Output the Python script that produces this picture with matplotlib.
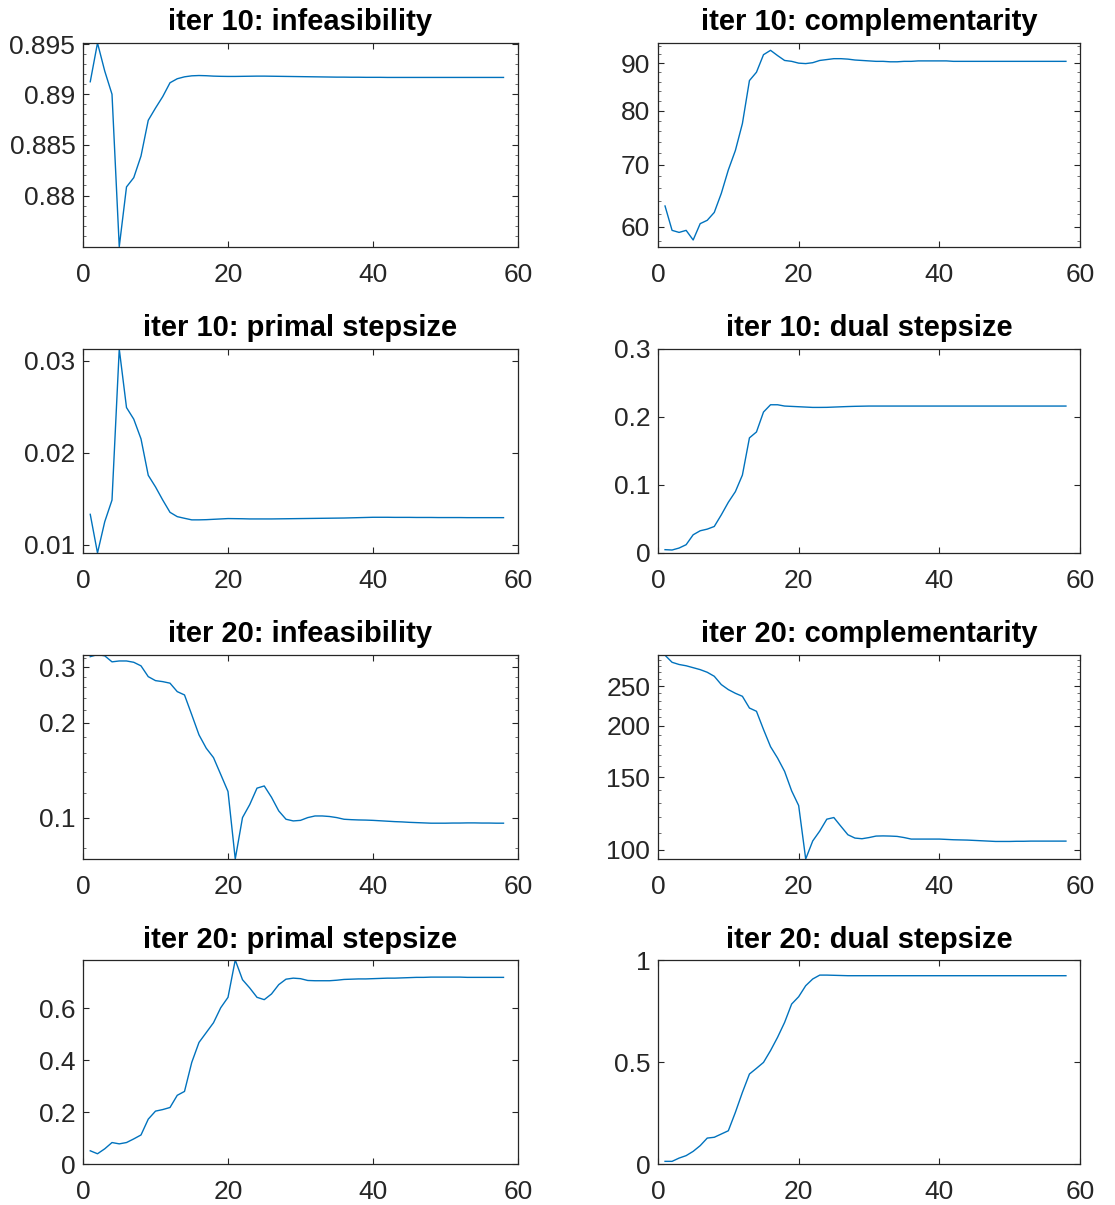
import matplotlib
matplotlib.use("Agg")
import matplotlib.pyplot as plt
from matplotlib.ticker import FixedLocator, MultipleLocator, FuncFormatter, NullFormatter
import numpy as np

plt.rcParams['font.family'] = ['Liberation Sans', 'DejaVu Sans']

iters = list(range(1, 59))

inf10 = [0.89124, 0.89510, 0.89230, 0.89000, 0.87500, 0.88085, 0.88176, 0.88389, 0.88742, 0.88863,
         0.88977, 0.89114, 0.89154, 0.89173, 0.89183, 0.89186, 0.89184, 0.89180, 0.89178, 0.89177,
         0.89177, 0.89178, 0.89179, 0.89180, 0.89180, 0.89179, 0.89178, 0.89177, 0.89176, 0.89175,
         0.89174, 0.89173, 0.89172, 0.89171, 0.89170, 0.89170, 0.89169, 0.89169, 0.89168, 0.89168,
         0.89168, 0.89167, 0.89167, 0.89167, 0.89167, 0.89167, 0.89167, 0.89167, 0.89167, 0.89167,
         0.89167, 0.89167, 0.89167, 0.89167, 0.89167, 0.89167, 0.89167, 0.89167]

comp10 = [63.2, 59.5, 59.2, 59.5, 58.1, 60.5, 61.0, 62.2, 65.2, 69.1,
          72.5, 77.5, 86.2, 88.0, 91.9, 92.9, 91.7, 90.6, 90.4, 90.0,
          89.9, 90.1, 90.6, 90.8, 91.0, 91.0, 90.9, 90.7, 90.6, 90.5,
          90.4, 90.4, 90.3, 90.3, 90.4, 90.4, 90.5, 90.5, 90.5, 90.5,
          90.5, 90.4, 90.4, 90.4, 90.4, 90.4, 90.4, 90.4, 90.4, 90.4,
          90.4, 90.4, 90.4, 90.4, 90.4, 90.4, 90.4, 90.4]

prim10 = [0.0133, 0.0091, 0.0125, 0.01485, 0.03126, 0.0249, 0.02364, 0.0215, 0.01754, 0.01628,
          0.01485, 0.01352, 0.01305, 0.01287, 0.0127, 0.0127, 0.01272, 0.01276, 0.0128, 0.01284,
          0.01283, 0.01282, 0.0128, 0.0128, 0.0128, 0.0128, 0.01281, 0.01282, 0.01283, 0.01284,
          0.01285, 0.01286, 0.01287, 0.01288, 0.01289, 0.0129, 0.01292, 0.01294, 0.01296, 0.01298,
          0.01298, 0.01298, 0.01297, 0.01297, 0.01297, 0.01296, 0.01296, 0.01296, 0.01295, 0.01295,
          0.01295, 0.01295, 0.01294, 0.01294, 0.01294, 0.01294, 0.01294, 0.01294]

dual10 = [0.0049, 0.0044, 0.0073, 0.0122, 0.0268, 0.0327, 0.0351, 0.0390, 0.0561, 0.0746,
          0.0902, 0.1146, 0.1693, 0.1780, 0.2073, 0.2180, 0.2180, 0.2161, 0.2156, 0.2151,
          0.2146, 0.2141, 0.2141, 0.2142, 0.2146, 0.2150, 0.2154, 0.2157, 0.2159, 0.2161,
          0.2161, 0.2161, 0.2161, 0.2161, 0.2161, 0.2161, 0.2161, 0.2161, 0.2161, 0.2161,
          0.2161, 0.2161, 0.2161, 0.2161, 0.2161, 0.2161, 0.2161, 0.2161, 0.2161, 0.2161,
          0.2161, 0.2161, 0.2161, 0.2161, 0.2161, 0.2161, 0.2161, 0.2161]

inf20 = [0.324, 0.329, 0.326, 0.312, 0.314, 0.314, 0.311, 0.303, 0.280, 0.272,
         0.270, 0.267, 0.251, 0.245, 0.212, 0.183, 0.166, 0.155, 0.137, 0.121,
         0.0739, 0.100, 0.110, 0.124, 0.126, 0.116, 0.105, 0.0988, 0.0976, 0.0980,
         0.1000, 0.1012, 0.1012, 0.1008, 0.1000, 0.0988, 0.0985, 0.0983, 0.0982, 0.0980,
         0.0977, 0.0974, 0.0971, 0.0969, 0.0966, 0.0964, 0.0962, 0.0960, 0.0960, 0.0960,
         0.0961, 0.0961, 0.0962, 0.0962, 0.0961, 0.0961, 0.0960, 0.0960]

comp20 = [297.0, 285.5, 282.0, 280.0, 277.0, 274.0, 270.0, 264.0, 252.0, 245.0,
          240.0, 236.0, 221.0, 217.0, 196.0, 178.0, 167.0, 155.0, 139.0, 128.0,
          94.9, 105.0, 111.0, 118.6, 119.7, 114.0, 108.7, 106.7, 106.3, 107.0,
          107.9, 108.0, 107.9, 107.7, 107.0, 106.1, 106.1, 106.1, 106.1, 106.1,
          105.9, 105.7, 105.6, 105.5, 105.3, 105.1, 104.9, 104.7, 104.7, 104.7,
          104.8, 104.8, 104.9, 104.9, 104.9, 104.9, 104.9, 104.9]

prim20 = [0.051, 0.0395, 0.0586, 0.0828, 0.0777, 0.0828, 0.0968, 0.112, 0.173, 0.204,
          0.210, 0.218, 0.265, 0.280, 0.392, 0.469, 0.507, 0.545, 0.603, 0.643,
          0.787, 0.711, 0.679, 0.643, 0.634, 0.656, 0.692, 0.713, 0.717, 0.715,
          0.708, 0.707, 0.707, 0.707, 0.709, 0.712, 0.713, 0.714, 0.714, 0.715,
          0.716, 0.717, 0.717, 0.718, 0.719, 0.720, 0.720, 0.721, 0.721, 0.721,
          0.721, 0.721, 0.720, 0.720, 0.720, 0.720, 0.720, 0.720]

dual20 = [0.013, 0.013, 0.029, 0.041, 0.062, 0.090, 0.127, 0.131, 0.147, 0.163,
          0.253, 0.351, 0.441, 0.469, 0.498, 0.556, 0.621, 0.694, 0.784, 0.820,
          0.874, 0.907, 0.926, 0.926, 0.925, 0.924, 0.923, 0.923, 0.923, 0.923,
          0.923, 0.923, 0.923, 0.923, 0.923, 0.923, 0.923, 0.923, 0.923, 0.923,
          0.923, 0.923, 0.923, 0.923, 0.923, 0.923, 0.923, 0.923, 0.923, 0.923,
          0.923, 0.923, 0.923, 0.923, 0.923, 0.923, 0.923, 0.923]

titles = ["iter 10: infeasibility", "iter 10: complementarity",
          "iter 10: primal stepsize", "iter 10: dual stepsize",
          "iter 20: infeasibility", "iter 20: complementarity",
          "iter 20: primal stepsize", "iter 20: dual stepsize"]
series = [inf10, comp10, prim10, dual10, inf20, comp20, prim20, dual20]
logscale = [True, True, False, False, True, True, False, False]
ylims = [(0.87497, 0.8951), (57.1, 94.6), (0.0091, 0.03126), (0.0, 0.3),
         (0.0739, 0.328), (94.9, 297.4), (0.0, 0.787), (0.0, 1.0)]
yticks = [[0.88, 0.885, 0.89, 0.895], [60, 70, 80, 90], [0.01, 0.02, 0.03], [0, 0.1, 0.2, 0.3],
          [0.1, 0.2, 0.3], [100, 150, 200, 250], [0, 0.2, 0.4, 0.6], [0, 0.5, 1]]
yminor = [0.001, 2, None, None, 0.02, 10, None, None]
xticks = [0, 20, 40, 60]

W, H = 1115, 1205
fig = plt.figure(figsize=(W / 100, H / 100), dpi=100)
col_lr = [(83, 518), (658, 1080)]
row_tops = [43, 349, 655, 960]
ax_h = 204

line_color = '#0072BD'
ax_color = '#262626'

for i in range(8):
    r, c = divmod(i, 2)
    l, rr = col_lr[c]
    top = row_tops[r]
    ax = fig.add_axes([l / W, 1 - (top + ax_h) / H, (rr - l) / W, ax_h / H])
    if logscale[i]:
        ax.set_yscale('log')
    ax.plot(iters, series[i], color=line_color, lw=1.0)
    ax.set_xlim(0, 60)
    ax.set_ylim(*ylims[i])
    ax.xaxis.set_major_locator(FixedLocator(xticks))
    ax.yaxis.set_major_locator(FixedLocator(yticks[i]))
    ax.yaxis.set_major_formatter(FuncFormatter(lambda v, p: '%g' % v))
    ax.xaxis.set_major_formatter(FuncFormatter(lambda v, p: '%g' % v))
    if yminor[i] is not None:
        ax.yaxis.set_minor_locator(MultipleLocator(yminor[i]))
        ax.yaxis.set_minor_formatter(NullFormatter())
    else:
        ax.yaxis.set_minor_locator(FixedLocator([]))
    ax.xaxis.set_minor_locator(FixedLocator([]))
    ax.tick_params(axis='both', which='major', direction='in', length=4.5, width=0.8,
                   top=True, right=True, labelsize=19, colors=ax_color)
    ax.tick_params(axis='y', which='major', pad=5.5)
    ax.tick_params(axis='y', which='minor', direction='in', length=2.5, width=0.6,
                   right=True, left=True, colors='#555555')
    ax.tick_params(axis='x', which='major', pad=11.5)
    for s in ax.spines.values():
        s.set_color(ax_color)
        s.set_linewidth(0.9)
    ax.set_title(titles[i], fontsize=21, fontweight='bold', color='black', pad=9)

fig.savefig('out.png', dpi=100)
